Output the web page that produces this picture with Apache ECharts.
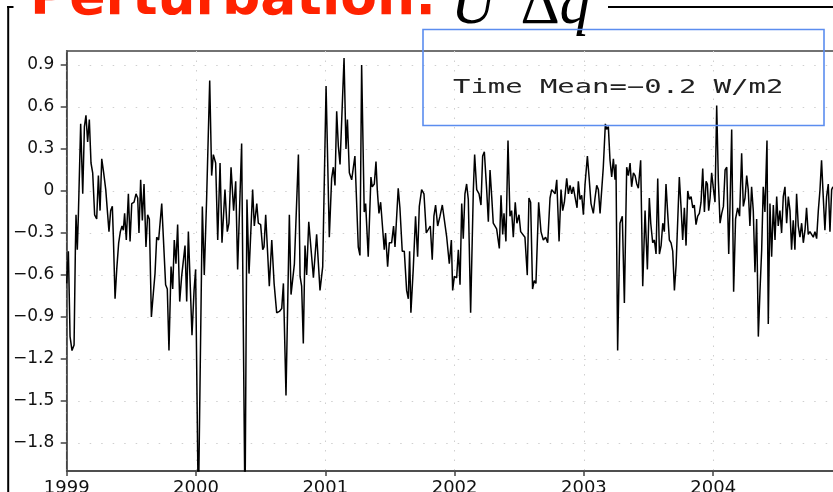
<!DOCTYPE html>
<html><head><meta charset="utf-8">
<script src="https://cdn.jsdelivr.net/npm/echarts@6/dist/echarts.min.js"></script>
<style>html,body{margin:0;padding:0;background:#fff}#c{width:833px;height:492px}</style>
</head><body><div id="c"></div>
<script>
const years = [1999, 2000, 2001, 2002, 2003, 2004];
const yTicks = [-1.8, -1.5, -1.2, -0.9, -0.6, -0.3, 0, 0.3, 0.6, 0.9];
const titleText = 'Perturbation:';
const meanText = 'Time Mean=\u22120.2 W/m2';

const times = [
1999.000,1999.013,1999.026,1999.041,1999.057,1999.067,1999.072,1999.082,1999.090,1999.108,
1999.124,1999.137,1999.149,1999.162,1999.175,1999.188,1999.201,1999.216,1999.232,1999.245,
1999.258,1999.271,1999.286,1999.302,1999.314,1999.327,1999.340,1999.353,1999.361,1999.374,
1999.387,1999.402,1999.415,1999.428,1999.438,1999.448,1999.461,1999.477,1999.490,1999.503,
1999.521,1999.536,1999.549,1999.559,1999.572,1999.585,1999.598,1999.613,1999.626,1999.639,
1999.655,1999.670,1999.683,1999.696,1999.711,
1999.735,1999.765,1999.778,1999.791,1999.807,1999.820,1999.832,1999.845,1999.858,1999.874,
1999.889,1999.915,1999.928,1999.941,1999.956,1999.969,1999.985,1999.997,2000.018,2000.049,
2000.064,2000.082,2000.106,2000.121,2000.134,2000.152,2000.168,2000.186,2000.201,2000.224,
2000.242,2000.255,2000.271,2000.291,2000.307,2000.322,2000.353,2000.379,2000.394,2000.410,
2000.425,2000.438,2000.451,
2000.470,2000.482,2000.500,2000.516,2000.526,2000.539,2000.552,2000.567,2000.586,2000.604,
2000.624,2000.645,2000.663,2000.676,2000.696,2000.722,2000.735,2000.761,2000.792,2000.805,
2000.817,2000.830,2000.843,2000.856,2000.872,2000.882,2000.895,2000.908,2000.933,2000.959,
2000.980,2001.006,2001.031,2001.049,2001.062,2001.075,2001.088,2001.101,2001.114,2001.145,
2001.160,2001.171,2001.186,
2001.204,2001.216,2001.229,2001.242,2001.255,2001.268,2001.281,2001.301,2001.312,2001.332,
2001.353,2001.363,2001.379,2001.392,2001.402,2001.415,2001.428,2001.443,2001.456,2001.466,
2001.482,2001.495,2001.513,2001.528,2001.539,2001.551,2001.564,2001.577,2001.595,2001.611,
2001.629,2001.642,2001.652,2001.662,2001.680,2001.698,2001.714,2001.727,2001.745,2001.763,
2001.781,2001.796,2001.812,2001.827,2001.840,2001.853,2001.869,2001.887,2001.905,2001.920,
2001.939,2001.959,2001.975,2001.985,2001.998,2002.016,2002.029,2002.042,2002.055,2002.067,
2002.080,2002.093,2002.106,2002.124,2002.145,2002.155,2002.171,2002.189,2002.204,2002.217,
2002.230,2002.248,2002.261,2002.274,2002.287,2002.299,2002.312,2002.325,2002.346,2002.359,
2002.372,2002.382,2002.397,2002.413,2002.428,2002.441,2002.454,2002.469,2002.482,2002.498,
2002.511,2002.526,2002.544,2002.562,2002.575,2002.588,2002.603,2002.616,2002.629,2002.650,
2002.668,2002.686,2002.704,2002.720,2002.738,2002.751,2002.764,2002.777,2002.790,2002.808,
2002.823,2002.836,2002.849,2002.867,2002.880,2002.893,2002.906,2002.918,2002.931,2002.947,
2002.957,2002.970,2002.983,2002.996,2003.009,2003.027,2003.040,2003.055,2003.073,2003.086,
2003.099,2003.112,2003.125,2003.137,2003.150,2003.166,2003.176,2003.189,2003.202,2003.215,
2003.228,2003.241,2003.248,2003.261,2003.279,2003.297,2003.313,2003.331,2003.344,2003.357,
2003.369,
2003.383,2003.396,2003.409,2003.421,2003.439,2003.455,2003.473,2003.491,2003.506,2003.517,
2003.532,2003.545,2003.558,2003.571,2003.584,2003.597,2003.610,2003.622,2003.635,2003.648,
2003.661,2003.674,2003.687,2003.700,2003.713,2003.726,2003.738,2003.751,2003.764,2003.777,
2003.790,2003.803,2003.816,2003.829,2003.842,2003.854,2003.867,2003.880,2003.893,2003.906,
2003.919,2003.932,2003.945,2003.955,2003.965,2003.976,2003.988,2004.001,2004.014,2004.027,
2004.040,2004.053,2004.066,2004.079,2004.092,2004.105,2004.120,
2004.130,2004.143,2004.158,2004.173,2004.189,2004.204,2004.220,2004.233,2004.246,2004.259,
2004.271,2004.284,2004.297,2004.310,2004.323,2004.336,2004.349,2004.362,2004.375,2004.387,
2004.400,2004.416,2004.426,2004.439,2004.452,2004.465,2004.478,2004.491,2004.503,2004.516,
2004.529,2004.542,2004.555,2004.568,2004.581,2004.594,2004.606,2004.619,2004.632,2004.645,
2004.658,2004.671,2004.684,2004.697,2004.710,2004.722,2004.735,2004.748,2004.761,2004.774,
2004.787,2004.800,2004.813,2004.826,2004.838,2004.851,2004.864,2004.877,2004.890,2004.903,
2004.916,2004.926
];
const values = [
-0.66,-0.43,-1.04,-1.14,-1.10,-0.42,-0.17,-0.42,-0.18,0.48,
-0.02,0.46,0.54,0.35,0.51,0.20,0.13,-0.17,-0.20,0.11,
-0.14,0.23,0.13,0.01,0.00,-0.29,-0.14,-0.11,-0.33,-0.77,
-0.56,-0.37,-0.29,-0.25,-0.28,-0.16,-0.35,-0.02,-0.36,-0.09,
-0.08,-0.02,-0.05,-0.30,0.08,-0.21,0.05,-0.40,-0.17,-0.20,
-0.90,-0.73,-0.59,-0.33,-0.35,
-0.09,-0.67,-0.70,-1.14,-0.54,-0.70,-0.35,-0.52,-0.24,-0.79,
-0.61,-0.39,-0.79,-0.29,-0.28,-1.03,-0.71,-0.56,-2.30,-0.11,
-0.60,-0.06,0.79,0.11,0.26,0.20,-0.35,0.20,-0.37,0.01,
-0.29,-0.23,0.17,-0.14,0.07,-0.56,0.34,-2.30,-0.06,-0.59,
-0.60,0.01,-0.25,
-0.09,-0.23,-0.24,-0.42,-0.40,-0.17,-0.16,-0.68,-0.35,-0.66,
-0.87,-0.86,-0.84,-0.66,-1.46,-0.17,-0.74,-0.52,0.26,-0.61,
-0.68,-1.09,-0.39,-0.60,-0.22,-0.33,-0.33,-0.62,-0.31,-0.71,
-0.54,0.75,-0.33,0.09,0.17,0.04,0.57,0.32,0.19,0.95,
0.30,0.51,0.13,
0.08,0.07,0.25,0.26,-0.40,-0.46,0.90,-0.15,-0.09,-0.47,
0.10,0.03,0.05,0.21,0.01,-0.16,-0.08,-0.09,-0.42,-0.30,
-0.54,-0.37,-0.37,-0.25,-0.40,-0.41,0.02,-0.12,-0.43,-0.43,
-0.71,-0.77,-0.43,-0.87,-0.56,-0.18,-0.47,-0.11,0.01,-0.02,
-0.30,-0.29,-0.25,-0.49,-0.18,-0.10,-0.25,-0.18,-0.10,-0.11,
-0.33,-0.52,-0.35,-0.71,-0.61,-0.62,-0.42,-0.67,-0.09,-0.34,
-0.02,0.05,-0.06,-0.87,0.01,0.26,0.01,-0.02,-0.10,0.25,
0.28,0.01,-0.22,0.15,-0.04,-0.23,-0.24,-0.27,-0.41,-0.03,
-0.31,-0.16,-0.36,0.36,-0.18,-0.14,-0.33,-0.08,-0.23,-0.17,
-0.29,-0.29,-0.33,-0.60,-0.05,-0.08,-0.70,-0.64,-0.66,-0.08,
-0.29,-0.35,-0.33,-0.37,-0.05,0.01,0.02,-0.02,0.08,-0.36,
0.01,-0.14,-0.08,0.09,-0.02,0.04,-0.02,0.03,-0.04,-0.12,
0.07,-0.06,-0.03,-0.17,0.05,0.25,0.10,-0.09,-0.16,-0.05,
0.04,0.01,-0.16,-0.17,0.17,0.48,0.44,0.46,0.22,0.10,
0.23,0.08,0.19,-1.14,-0.23,-0.18,-0.80,0.17,0.11,0.20,
0.03,
0.13,0.11,0.05,0.02,0.22,-0.68,-0.14,-0.56,-0.05,-0.23,
-0.37,-0.35,-0.45,0.09,-0.45,-0.39,-0.23,-0.29,0.05,-0.16,
-0.35,-0.37,-0.43,-0.71,-0.53,-0.52,0.10,-0.11,-0.35,-0.12,
-0.39,0.00,-0.06,-0.04,-0.12,-0.10,-0.24,-0.18,-0.16,-0.08,
0.16,-0.15,0.07,0.05,-0.14,-0.05,0.13,0.02,-0.08,0.61,
0.07,-0.23,-0.16,-0.11,0.15,0.17,-0.45,
-0.11,0.44,-0.72,-0.20,-0.12,-0.18,0.27,-0.11,-0.05,0.11,
0.01,-0.25,0.03,-0.14,-0.58,-0.20,-1.04,-0.71,-0.42,0.03,
-0.15,0.36,-0.95,-0.09,-0.47,-0.10,-0.35,-0.04,-0.25,-0.14,
-0.30,-0.04,0.03,-0.23,-0.04,-0.14,-0.42,-0.21,-0.42,-0.02,
-0.25,-0.33,-0.23,-0.37,-0.28,-0.12,-0.31,-0.29,-0.31,-0.33,
-0.29,-0.34,-0.14,0.01,0.22,-0.04,-0.28,-0.04,0.05,-0.29,
0.01,0.03
];

const seriesData = times.map((t, i) => [t, values[i]]);
const fmtY = v => v === 0 ? '0' : (v < 0 ? '\u2212' : '') + Math.abs(v).toFixed(1);

const chart = echarts.init(document.getElementById('c'), null, {renderer: 'canvas'});
chart.setOption({
  animation: false,
  backgroundColor: '#fff',
  grid: {
    left: 66.7, top: 51, width: 775.8, height: 420,
    outerBoundsMode: 'none', containLabel: false,
    show: true, borderColor: '#444', borderWidth: 1.5
  },
  xAxis: {
    type: 'value', min: 1999, max: 2005, interval: 1,
    axisLine: {show: true, onZero: false, lineStyle: {color: '#444', width: 1.5}},
    axisTick: {show: true, length: 5, lineStyle: {color: '#444', width: 1.5}},
    axisLabel: {
      margin: 8, fontSize: 18, fontFamily: 'DejaVu Sans', color: '#111',
      formatter: v => years.indexOf(v) >= 0 ? String(v) : ''
    },
    splitLine: {show: true, lineStyle: {color: '#cfcfcf', type: [1.5, 8], width: 1}}
  },
  yAxis: {
    type: 'value', min: -2, max: 1,
    axisLine: {show: true, onZero: false, lineStyle: {color: '#444', width: 1.5}},
    axisTick: {show: true, length: 6, customValues: yTicks, lineStyle: {color: '#444', width: 1.5}},
    axisLabel: {
      margin: 12.5, fontSize: 17, fontFamily: 'DejaVu Sans', color: '#111',
      customValues: yTicks, formatter: fmtY
    },
    splitLine: {show: true, lineStyle: {color: '#cfcfcf', type: [1.5, 10], width: 1}}
  },
  series: [{
    type: 'line', data: seriesData, showSymbol: false, symbol: 'none',
    lineStyle: {color: '#000', width: 1.5}, clip: true, z: 3
  }],
  graphic: [
    {type: 'line', shape: {x1: 8.2, y1: 6, x2: 8.2, y2: 492}, style: {stroke: '#000', lineWidth: 2}},
    {type: 'line', shape: {x1: 7.2, y1: 7, x2: 13.5, y2: 7}, style: {stroke: '#000', lineWidth: 2}},
    {type: 'text', x: 30, y: 0, style: {
      text: titleText, font: 'bold 53.5px "DejaVu Sans"', fill: '#ff2200', verticalAlign: 'middle'}},
    {type: 'text', x: 451, y: 7, style: {
      text: '{u|U\u2032}{d|\u0394}{q|q}', verticalAlign: 'middle',
      rich: {
        u: {fontFamily: 'Liberation Serif', fontStyle: 'italic', fontSize: 61, fill: '#000'},
        d: {fontFamily: 'Liberation Serif', fontSize: 61, fill: '#000', padding: [0, 0, 0, 12]},
        q: {fontFamily: 'Liberation Serif', fontStyle: 'italic', fontSize: 61, fill: '#000'}
      }}},
    {type: 'line', shape: {x1: 608, y1: 7, x2: 833, y2: 7}, style: {stroke: '#000', lineWidth: 2}},
    {type: 'rect', shape: {x: 423, y: 29.5, width: 401, height: 96},
      style: {fill: 'none', stroke: '#5b8def', lineWidth: 1.6}, z: 10},
    {type: 'text', x: 453, y: 88, scaleX: 1.52, style: {
      text: meanText, font: '19px "DejaVu Sans Mono"', fill: '#222', verticalAlign: 'middle'}, z: 10}
  ]
});
</script></body></html>
